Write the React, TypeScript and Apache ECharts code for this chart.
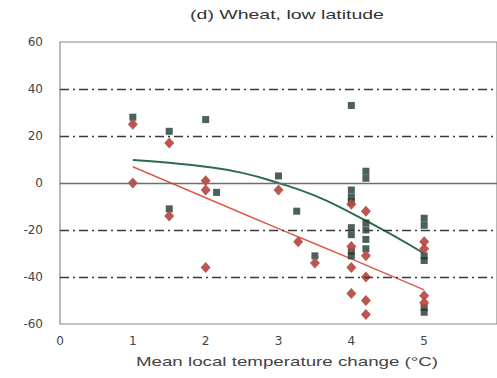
import React, { useEffect, useRef } from "react";
import * as echarts from "echarts";

// Yield change (%) versus mean local warming (°C) for low-latitude wheat
const xTicks = [0, 1, 2, 3, 4, 5, 6];
const yTicks = [-60, -40, -20, 0, 20, 40, 60];

// Simulations without adaptation (dark squares)
const noAdaptation: [number, number][] = [
  [1, 28], [1.5, 22], [1.5, -11], [2, 27], [2.15, -4], [3, 3], [3.25, -12],
  [3.5, -31], [4, 33], [4, -3], [4, -6], [4, -8], [4, -19], [4, -22], [4, -29],
  [4, -31], [4.2, 5], [4.2, 2], [4.2, -17], [4.2, -20], [4.2, -24], [4.2, -28],
  [5, -15], [5, -18], [5, -31], [5, -33], [5, -53], [5, -55],
];

// Simulations with adaptation (red diamonds)
const withAdaptation: [number, number][] = [
  [1, 25], [1, 0], [1.5, 17], [1.5, -14], [2, 1], [2, -3], [2, -36], [3, -3],
  [3.27, -25], [3.5, -34], [4, -9], [4, -27], [4, -36], [4, -47], [4.2, -12],
  [4.2, -31], [4.2, -40], [4.2, -50], [4.2, -56], [5, -25], [5, -28], [5, -48],
  [5, -51],
];

// Fitted trend curves
const fitX = [1, 1.5, 2, 2.5, 3, 3.5, 4, 4.5, 5];
const fitGreen = [9.8, 8.6, 6.9, 4.3, 0, -5.4, -12.8, -21, -30];
const fitRedX = [1, 2, 3, 4, 5];
const fitRed = [6.9, -6.3, -19.4, -32.3, -45.5];

const dashedLevels = [40, 20, -20, -40];
const titleText = "(d) Wheat, low latitude";
const xAxisTitle = "Mean local temperature change (°C)";

export default function App() {
  const ref = useRef<HTMLDivElement>(null);

  useEffect(() => {
    document.body.style.margin = "0";
    if (!ref.current) return;
    const chart = echarts.init(ref.current, undefined, { renderer: "svg" });
    const font = "Liberation Sans, Arial, sans-serif";

    chart.setOption({
      animation: false,
      backgroundColor: "#ffffff",
      grid: {
        left: 60,
        right: -5,
        top: 42,
        bottom: 54,
        show: true,
        borderColor: "#8a8a8a",
        borderWidth: 1.2,
      },
      xAxis: {
        type: "value",
        min: xTicks[0],
        max: xTicks[xTicks.length - 1],
        interval: 1,
        axisLine: { show: false },
        axisTick: { show: false },
        splitLine: { show: false },
        axisLabel: {
          margin: 11,
          fontFamily: "DejaVu Sans, sans-serif",
          fontSize: 12,
          color: "#444",
          showMaxLabel: false,
        },
      },
      yAxis: {
        type: "value",
        min: yTicks[0],
        max: yTicks[yTicks.length - 1],
        interval: 20,
        axisLine: { show: false },
        axisTick: { show: false },
        splitLine: { show: false },
        axisLabel: {
          margin: 17,
          fontFamily: "DejaVu Sans, sans-serif",
          fontSize: 12,
          color: "#444",
        },
      },
      graphic: [
        {
          type: "text",
          x: 287,
          y: 15,
          scaleX: 1.5,
          style: {
            text: titleText,
            fontFamily: font,
            fontSize: 13,
            fill: "#333",
            align: "center",
            verticalAlign: "middle",
          },
        },
        {
          type: "text",
          x: 287,
          y: 362,
          scaleX: 1.5,
          style: {
            text: xAxisTitle,
            fontFamily: font,
            fontSize: 12.5,
            fill: "#444",
            align: "center",
            verticalAlign: "middle",
          },
        },
      ],
      series: [
        {
          type: "line",
          data: [],
          z: 1,
          silent: true,
          markLine: {
            symbol: "none",
            silent: true,
            label: { show: false },
            data: [
              ...dashedLevels.map((v) => ({
                yAxis: v,
                lineStyle: { color: "#3a3a3a", width: 1.3, type: [9, 4, 2, 4] },
              })),
              { yAxis: 0, lineStyle: { color: "#6e6e6e", width: 1.4, type: "solid" } },
            ],
          },
        },
        {
          type: "line",
          data: fitX.map((x, i) => [x, fitGreen[i]]),
          smooth: true,
          showSymbol: false,
          z: 2,
          lineStyle: { color: "#2f6b52", width: 2 },
        },
        {
          type: "line",
          data: fitRedX.map((x, i) => [x, fitRed[i]]),
          smooth: true,
          showSymbol: false,
          z: 2,
          lineStyle: { color: "#dc5a4c", width: 1.5 },
        },
        {
          type: "scatter",
          data: noAdaptation,
          symbol: "rect",
          symbolSize: [7, 7],
          z: 3,
          itemStyle: { color: "#1f3a30" },
        },
        {
          type: "scatter",
          data: withAdaptation,
          symbol: "diamond",
          symbolSize: [10, 11],
          z: 4,
          itemStyle: { color: "#b54842", opacity: 0.92 },
        },
      ],
    });

    return () => chart.dispose();
  }, []);

  return <div ref={ref} style={{ width: 497, height: 378 }} />;
}
